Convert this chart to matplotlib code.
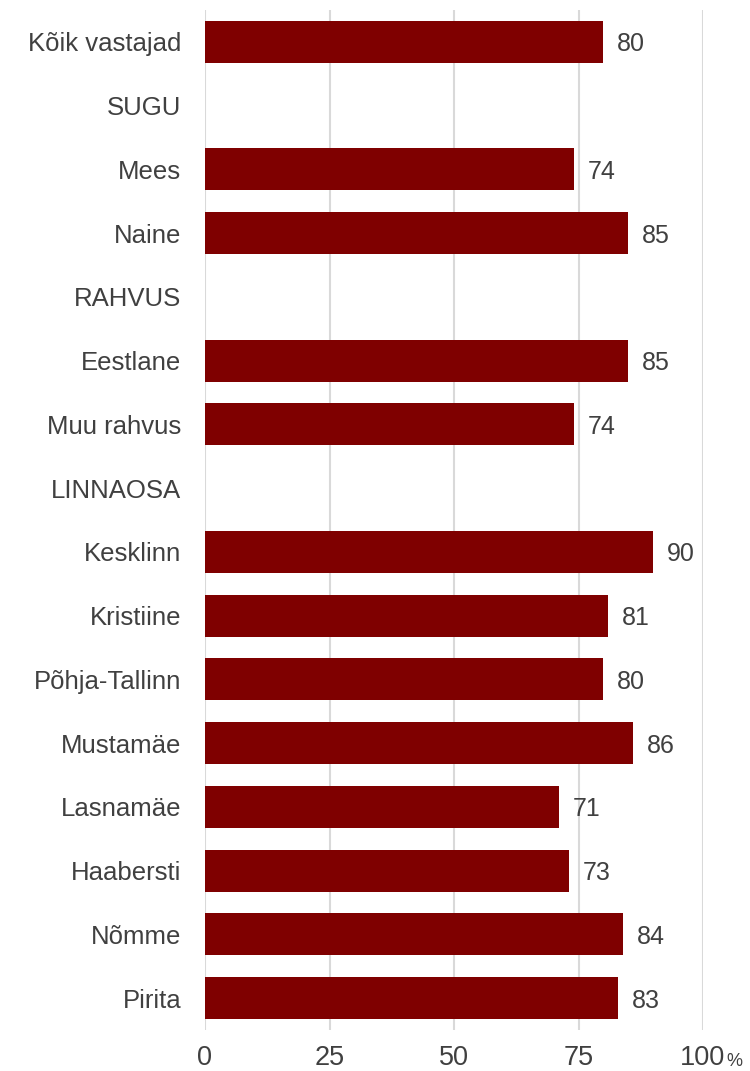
import matplotlib
matplotlib.use("Agg")
import matplotlib.pyplot as plt
import numpy as np

categories = ["Kõik vastajad", "SUGU", "Mees", "Naine", "RAHVUS", "Eestlane",
              "Muu rahvus", "LINNAOSA", "Kesklinn", "Kristiine", "Põhja-Tallinn",
              "Mustamäe", "Lasnamäe", "Haabersti", "Nõmme", "Pirita"]
values = [80, None, 74, 85, None, 85, 74, None, 90, 81, 80, 86, 71, 73, 84, 83]
xticks = [0, 25, 50, 75, 100]
xticklabels = ["0", "25", "50", "75", "100"]

plt.rcParams['font.family'] = ['Liberation Sans', 'DejaVu Sans']
text_color = '#404040'
bar_color = '#7F0000'

fig = plt.figure(figsize=(7.5, 10.71), dpi=100)
ax = fig.add_axes([205/750, 1 - 1030/1071, (703-205)/750, (1030-10)/1071])

y = np.arange(len(categories))
for i, v in enumerate(values):
    if v is None:
        continue
    ax.barh(y[i], v, height=0.66, color=bar_color, zorder=3)
    ax.annotate(f"{v}", xy=(v, y[i]), xytext=(10, 0), textcoords='offset points',
                ha='left', va='center_baseline', fontsize=18, color=text_color)

ax.set_xlim(0, 100)
ax.set_ylim(len(categories) - 0.5, -0.5)
ax.set_yticks(y)
ax.set_yticklabels(categories, fontsize=18.5, color=text_color)
ax.set_xticks(xticks)
ax.set_xticklabels(xticklabels, fontsize=19.5, color=text_color)
ax.tick_params(axis='y', length=0, pad=17)
ax.tick_params(axis='x', length=0, pad=11)
ax.grid(axis='x', color='#d9d9d9', linewidth=1.5, zorder=0)
for s in ax.spines.values():
    s.set_visible(False)

fig.canvas.draw()
renderer = fig.canvas.get_renderer()
lab = ax.get_xticklabels()[-1]
bb = lab.get_window_extent(renderer)
fs_px = 19.5 * 100 / 72
baseline = bb.y0 + 0.212 * fs_px
fig.text((bb.x1 + 1) / 750, baseline / 1071, "%", ha='left', va='baseline',
         fontsize=13, color=text_color)

fig.savefig("out.png", dpi=100)
